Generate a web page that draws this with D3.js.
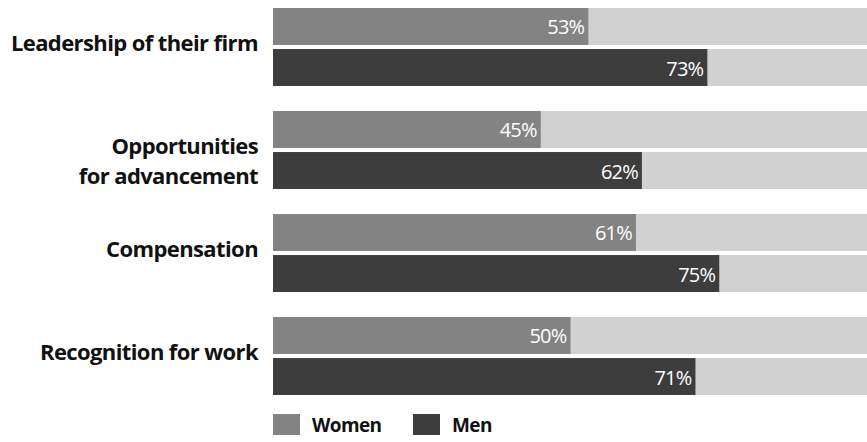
<!DOCTYPE html>
<html>
<head>
<meta charset="utf-8">
<script src="https://cdn.jsdelivr.net/npm/d3@7"></script>
<style>
  html, body { margin: 0; padding: 0; background: #fff; }
  svg { display: block; }
  .cat { font-family: "Open Sans", "DejaVu Sans", sans-serif; font-weight: 700; fill: #111; }
  .val { font-family: "Open Sans", "DejaVu Sans", sans-serif; font-weight: 400; fill: #fff; }
  .leg { font-family: "Open Sans", "DejaVu Sans", sans-serif; font-weight: 700; fill: #111; }
</style>
</head>
<body>
<div id="chart"></div>
<script>
'use strict';

// chart values
var categories = [
  'Leadership of their firm',
  'Opportunities\nfor advancement',
  'Compensation',
  'Recognition for work'
];
var seriesNames = ['Women', 'Men'];
var women = [53, 45, 61, 50];
var men = [73, 62, 75, 71];

var width = 867,
    height = 442;

var colors = { Women: '#838383', Men: '#3d3d3d', track: '#d1d1d1' };

var svg = d3.select('#chart')
  .append('svg')
  .attr('width', width)
  .attr('height', height);

var x = d3.scaleLinear()
  .domain([0, 100])
  .range([273, 868]);

var y = d3.scaleBand()
  .domain(categories)
  .range([8, 395])
  .paddingInner(0.243)
  .paddingOuter(0);

var ySub = d3.scaleBand()
  .domain(seriesNames)
  .range([0, y.bandwidth()])
  .paddingInner(0.1);

var rows = categories.map(function (c, i) {
  return { cat: c, values: [
    { name: 'Women', value: women[i] },
    { name: 'Men', value: men[i] }
  ] };
});

var group = svg.selectAll('g.row')
  .data(rows)
  .enter()
  .append('g')
    .attr('class', 'row')
    .attr('transform', function (d) { return 'translate(0,' + y(d.cat) + ')'; });

// light track behind each bar, full 100%
group.selectAll('rect.track')
  .data(function (d) { return d.values; })
  .enter()
  .append('rect')
    .attr('class', 'track')
    .attr('x', x(0))
    .attr('y', function (d) { return ySub(d.name); })
    .attr('width', x(100) - x(0))
    .attr('height', ySub.bandwidth())
    .attr('fill', colors.track);

group.selectAll('rect.bar')
  .data(function (d) { return d.values; })
  .enter()
  .append('rect')
    .attr('class', 'bar')
    .attr('x', x(0))
    .attr('y', function (d) { return ySub(d.name); })
    .attr('width', function (d) { return x(d.value) - x(0); })
    .attr('height', ySub.bandwidth())
    .attr('fill', function (d) { return colors[d.name]; });

group.selectAll('text.val')
  .data(function (d) { return d.values; })
  .enter()
  .append('text')
    .attr('class', 'val')
    .attr('x', function (d) { return x(d.value) - 4; })
    .attr('y', function (d) { return ySub(d.name) + ySub.bandwidth() / 2; })
    .attr('dy', '0.4em')
    .attr('text-anchor', 'end')
    .style('font-size', '20px')
    .style('letter-spacing', '-0.8px')
    .text(function (d) { return d.value + '%'; });

// category labels, right aligned against the bars;
// a second line hangs below the first
var cat = group.append('text')
  .attr('class', 'cat')
  .attr('text-anchor', 'end')
  .style('font-size', '22px')
  .style('letter-spacing', '-0.6px');

cat.each(function (d) {
  var lines = d.cat.split('\n'),
      el = d3.select(this),
      lh = 30;
  lines.forEach(function (line, k) {
    el.append('tspan')
      .attr('x', x(0) - 15)
      .attr('y', y.bandwidth() / 2 + k * lh)
      .attr('dy', '0.2em')
      .text(line);
  });
});

// legend
var legend = svg.append('g')
  .attr('transform', 'translate(' + x(0) + ',414)');

var item = legend.selectAll('g')
  .data(seriesNames)
  .enter()
  .append('g')
    .attr('transform', function (d, i) { return 'translate(' + (i * 140) + ',0)'; });

item.append('rect')
  .attr('width', 27)
  .attr('height', 21)
  .attr('fill', function (d) { return colors[d]; });

item.append('text')
  .attr('class', 'leg')
  .attr('x', 39)
  .attr('y', 11)
  .attr('dy', '0.36em')
  .style('font-size', '19px')
  .style('letter-spacing', '-0.6px')
  .text(function (d) { return d; });
</script>
</body>
</html>
